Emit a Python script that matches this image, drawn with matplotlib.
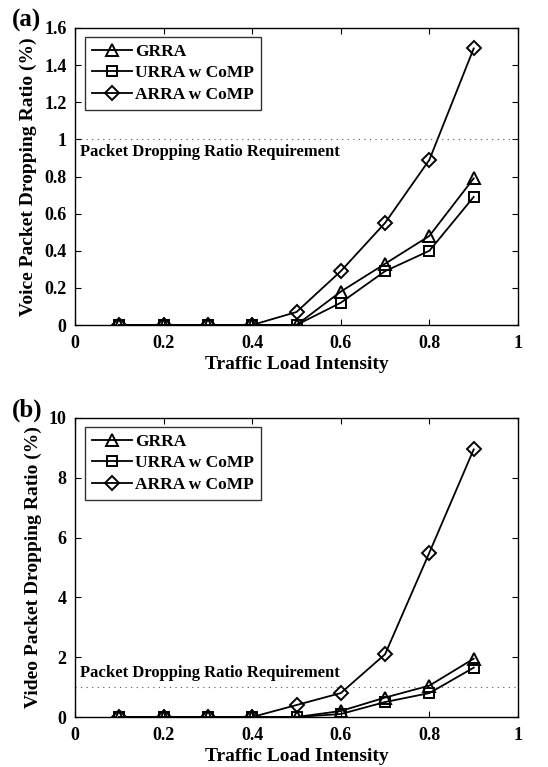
import matplotlib
matplotlib.use("Agg")
import matplotlib.pyplot as plt

x = [0.1, 0.2, 0.3, 0.4, 0.5, 0.6, 0.7, 0.8, 0.9]
labels = ["GRRA", "URRA w CoMP", "ARRA w CoMP"]
markers = ["^", "s", "D"]

voice_grra = [0, 0, 0, 0, 0, 0.18, 0.33, 0.48, 0.79]
voice_urra = [0, 0, 0, 0, 0, 0.12, 0.29, 0.40, 0.69]
voice_arra = [0, 0, 0, 0, 0.07, 0.29, 0.55, 0.89, 1.49]

video_grra = [0, 0, 0, 0, 0, 0.2, 0.65, 1.05, 1.95]
video_urra = [0, 0, 0, 0, 0, 0.1, 0.5, 0.8, 1.65]
video_arra = [0, 0, 0, 0, 0.4, 0.8, 2.1, 5.5, 8.95]

plt.rcParams['font.family'] = ['Liberation Serif', 'DejaVu Serif']
plt.rcParams['font.weight'] = 'bold'

fig = plt.figure(figsize=(5.48, 7.67), dpi=100)
W, H = 548, 767
ax1 = fig.add_axes([75/W, 1-325/H, 443/W, 297/H])
ax2 = fig.add_axes([75/W, 1-717/H, 443/W, 299/H])

def draw(ax, series, ylim, yticks, yticklabels, ylabel, text_y, panel):
    for ys, lab, m in zip(series, labels, markers):
        ms = 8 if m != "D" else 7
        if m == "s":
            ms = 7.5
        ax.plot(x, ys, color='black', lw=1.3, marker=m, ms=ms, mfc='none',
                mec='black', mew=1.4, label=lab)
    ax.axhline(1, color='#555555', ls=(0, (1, 4)), lw=0.8)
    ax.set_xlim(0, 1)
    ax.set_ylim(*ylim)
    ax.set_xticks([0, 0.2, 0.4, 0.6, 0.8, 1])
    ax.set_xticklabels(["0", "0.2", "0.4", "0.6", "0.8", "1"])
    ax.set_yticks(yticks)
    ax.set_yticklabels(yticklabels)
    ax.tick_params(direction='in', top=True, right=True, labelsize=13, length=4)
    ax.tick_params(axis='x', pad=7)
    ax.tick_params(axis='y', pad=6)
    for lbl in ax.get_xticklabels() + ax.get_yticklabels():
        lbl.set_fontweight('bold')
    ax.set_xlabel("Traffic Load Intensity", fontsize=14, fontweight='bold', labelpad=3)
    ax.set_ylabel(ylabel, fontsize=14, fontweight='bold', labelpad=5)
    ax.text(0.012, text_y, "Packet Dropping Ratio Requirement", fontsize=12,
            fontweight='bold', transform=ax.get_yaxis_transform(), va='center')
    leg = ax.legend(loc='upper left', bbox_to_anchor=(10/443, 0.97), fontsize=12.5,
                    frameon=True, fancybox=False, edgecolor='black', handlelength=2.3,
                    borderpad=0.4, labelspacing=0.3, handletextpad=0.2,
                    borderaxespad=0)
    leg.get_frame().set_linewidth(1.0)
    for t in leg.get_texts():
        t.set_fontweight('bold')
    for s in ax.spines.values():
        s.set_linewidth(1.0)
    fig.text(12/W, ax.get_position().y1 + 0.01, panel, fontsize=18, fontweight='bold', va='center')

draw(ax1, [voice_grra, voice_urra, voice_arra], (0, 1.6),
     [0, 0.2, 0.4, 0.6, 0.8, 1, 1.2, 1.4, 1.6],
     ["0", "0.2", "0.4", "0.6", "0.8", "1", "1.2", "1.4", "1.6"],
     "Voice Packet Dropping Ratio (%)", 0.93, "(a)")
draw(ax2, [video_grra, video_urra, video_arra], (0, 10),
     [0, 2, 4, 6, 8, 10], ["0", "2", "4", "6", "8", "10"],
     "Video Packet Dropping Ratio (%)", 1.47, "(b)")

fig.savefig("out.png", dpi=100)
